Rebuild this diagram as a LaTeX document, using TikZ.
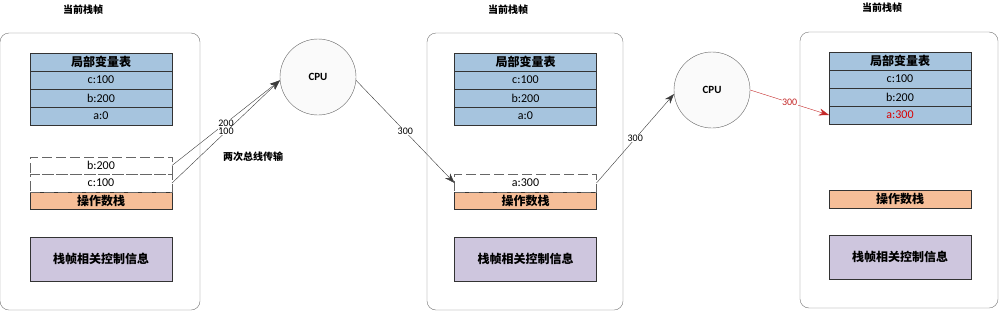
\documentclass[tikz,border=0pt]{standalone}
\usepackage{fontspec}
\setmainfont{Carlito}
\newfontfamily\cjkfont{Noto Sans CJK SC}
\usetikzlibrary{positioning,arrows.meta}
\definecolor{varBlue}{RGB}{166,196,222}
\definecolor{stackOrange}{RGB}{246,190,152}
\definecolor{infoPurple}{RGB}{206,198,222}
\definecolor{edgeGray}{RGB}{60,60,60}
\definecolor{busRed}{RGB}{196,40,40}
\newcommand{\zhbf}[1]{{\cjkfont\bfseries #1}}

\begin{document}
\begin{tikzpicture}[x=1pt, y=-1pt,
    frame/.style={draw=black!55, rounded corners=9pt, minimum width=196pt, minimum height=277pt},
    cell/.style={draw=black!80, minimum width=142pt, minimum height=18pt, inner sep=0pt, outer sep=0pt, font=\fontsize{12}{12}\selectfont},
    varcell/.style={cell, fill=varBlue},
    tmpcell/.style={cell, draw=black!60, dash pattern=on 10pt off 4pt, minimum height=17.5pt},
    stackcell/.style={cell, fill=stackOrange, minimum height=17.5pt},
    infocell/.style={cell, fill=infoPurple, minimum height=44pt},
    cpu/.style={circle, draw=black!60, fill=black!2, minimum size=76pt, font=\bfseries\fontsize{11}{11}\selectfont},
    bus/.style={draw=edgeGray, -{Stealth[length=10pt,width=7pt]}},
    val/.style={fill=white, inner sep=0.5pt, font=\fontsize{10}{10}\selectfont}]
  \useasboundingbox (0,0) rectangle (1000,311);

  \node[frame, minimum width=200pt] (frameA) at (100,171.5) {};
  \node (titleA) at (83,10) {\zhbf{当前栈帧}};
  \node[varcell] (localA) at (101,62) {\zhbf{局部变量表}};
  \node[varcell, below=0pt of localA] (cA) {c:100};
  \node[varcell, below=0pt of cA] (bA) {b:200};
  \node[varcell, below=0pt of bA] (aA) {a:0};
  \node[stackcell] (stackA) at (101,200.5) {\zhbf{操作数栈}};
  \node[tmpcell, above=0pt of stackA] (topA) {c:100};
  \node[tmpcell, above=0pt of topA] (nextA) {b:200};
  \node[infocell] (infoA) at (101,259) {\zhbf{栈帧相关控制信息}};

  \node[frame] (frameB) at (525,171.5) {};
  \node (titleB) at (508,10) {\zhbf{当前栈帧}};
  \node[varcell] (localB) at (525.5,62) {\zhbf{局部变量表}};
  \node[varcell, below=0pt of localB] (cB) {c:100};
  \node[varcell, below=0pt of cB] (bB) {b:200};
  \node[varcell, below=0pt of bB] (aB) {a:0};
  \node[stackcell] (stackB) at (525.5,200.5) {\zhbf{操作数栈}};
  \node[tmpcell, above=0pt of stackB] (topB) {a:300};
  \node[infocell] (infoB) at (525.5,259) {\zhbf{栈帧相关控制信息}};

  \node[frame, minimum width=198pt, minimum height=276pt] (frameC) at (899,170) {};
  \node (titleC) at (882,8) {\zhbf{当前栈帧}};
  \node[varcell] (localC) at (900,61) {\zhbf{局部变量表}};
  \node[varcell, below=0pt of localC] (cC) {c:100};
  \node[varcell, below=0pt of cC] (bC) {b:200};
  \node[varcell, below=0pt of bC, text=red!85!black] (aC) {a:300};
  \node[stackcell] (stackC) at (900,199) {\zhbf{操作数栈}};
  \node[infocell] (infoC) at (900,257) {\zhbf{栈帧相关控制信息}};

  \node[cpu] (cpuA) at (318,77) {CPU};
  \node[cpu] (cpuB) at (712,90) {CPU};

  \draw[bus] (nextA.east) -- node[val] {200} (cpuA.185);
  \draw[bus] (topA.east) -- node[val] {100} (cpuA.185);
  \node (busNote) at (253,157) {\zhbf{两次总线传输}};
  \draw[bus] (cpuA.-5) -- node[val] {300} (topB.west);
  \draw[bus] (topB.east) -- node[val] {300} (cpuB.186);
  \draw[bus, draw=busRed] (cpuB.east) -- node[val, text=busRed] {300} (aC.west);
\end{tikzpicture}
\end{document}
